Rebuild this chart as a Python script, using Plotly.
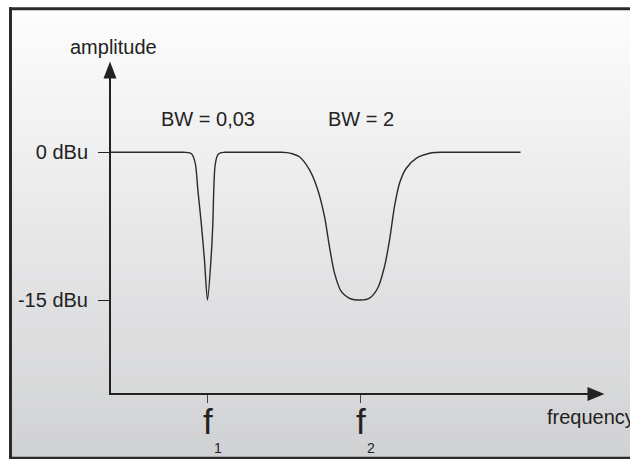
import plotly.graph_objects as go

# ---- data ----
freq = [0.36, 0.70, 0.85, 0.875, 0.895, 0.908, 0.922, 0.937, 0.959, 0.980, 1.0,
        1.024, 1.035, 1.041, 1.050, 1.067, 1.085, 1.110, 1.140, 1.300,
        1.480, 1.520, 1.555, 1.601, 1.667, 1.721, 1.765, 1.797, 1.830, 1.874, 1.939, 2.0,
        2.059, 2.113, 2.157, 2.190, 2.222, 2.255, 2.299, 2.364, 2.451, 2.490, 2.530, 2.700, 3.046]
amp_dbu = [0, 0, 0, -0.03, -0.15, -0.48, -1.29, -3.82, -7.17, -10.9, -15,
           -10.58, -7.17, -3.82, -1.29, -0.27, -0.05, 0, 0, 0,
           0, -0.03, -0.15, -0.45, -1.79, -3.82, -6.53, -9.57, -12.26, -14.13, -14.9, -15,
           -14.8, -13.78, -11.6, -8.89, -5.51, -3.14, -1.62, -0.61, -0.1, -0.02, 0, 0, 0]
y_tick_vals = [0, -15]
y_tick_text = ["0 dBu", "-15 dBu"]
x_tick_vals = [1, 2]
x_tick_text = ["f", "f"]
x_tick_sub = ["1", "2"]
bw_labels = ["BW = 0,03", "BW = 2"]

# ---- layout geometry (pixels) ----
W, H = 630, 459
L, R, T, B = 111, 588, 78, 393  # plot area edges in px
FONT = "Liberation Sans, Arial, sans-serif"
INK = "#222222"


def px(x):
    return (x - L) / (R - L)


def py(y):
    return (B - y) / (B - T)


shapes = []
# vertical gradient background
top_c = (253, 253, 253)
bot_c = (208, 209, 211)
y0, y1 = 9, 458
n = 150
for i in range(n):
    ya = y0 + (y1 - y0) * i / n
    yb = y0 + (y1 - y0) * (i + 1) / n + 0.6
    t = (i + 0.5) / n
    c = tuple(round(top_c[k] + (bot_c[k] - top_c[k]) * t) for k in range(3))
    shapes.append(dict(type="rect", xref="paper", yref="paper", layer="below",
                       x0=px(10), x1=px(W), y0=py(yb), y1=py(ya),
                       fillcolor="rgb(%d,%d,%d)" % c, line=dict(width=0)))
# frame (left, top, bottom; the right side lies outside the picture)
frame = dict(xref="paper", yref="paper", layer="above", type="line",
             line=dict(color="#2b2b2b", width=3))
shapes.append(dict(frame, x0=px(10.5), x1=px(10.5), y0=py(7.2), y1=py(459)))
shapes.append(dict(frame, x0=px(9), x1=px(W), y0=py(8.7), y1=py(8.7)))
shapes.append(dict(frame, x0=px(9), x1=px(W), y0=py(458.3), y1=py(458.3)))
# axis arrowheads
shapes.append(dict(type="path", xref="paper", yref="paper", layer="above",
                   path="M %f %f L %f %f L %f %f Z" % (px(110), py(61.5), px(103.5), py(78.5), px(116.5), py(78.5)),
                   fillcolor=INK, line=dict(width=0)))
shapes.append(dict(type="path", xref="paper", yref="paper", layer="above",
                   path="M %f %f L %f %f L %f %f Z" % (px(604.5), py(394), px(587.5), py(387), px(587.5), py(401)),
                   fillcolor=INK, line=dict(width=0)))

fig = go.Figure()
fig.add_trace(go.Scatter(x=freq, y=amp_dbu, mode="lines",
                         line=dict(color="#2a2a2a", width=1.4, shape="spline", smoothing=0.8),
                         hoverinfo="skip", showlegend=False, cliponaxis=False))

annotations = [
    dict(text="amplitude", x=px(113.5), y=py(47), xanchor="center", yanchor="middle"),
    dict(text=bw_labels[0], x=1.0, xref="x", y=py(119), xanchor="center", yanchor="middle"),
    dict(text=bw_labels[1], x=2.0, xref="x", y=py(119), xanchor="center", yanchor="middle"),
    dict(text="frequency", x=px(545), y=py(417), xanchor="left", yanchor="middle"),
]
for v, s, sub in zip(x_tick_vals, x_tick_text, x_tick_sub):
    annotations.append(dict(text=s, x=v, xref="x", y=py(421.5), xanchor="center",
                            yanchor="middle", font=dict(size=35, family=FONT, color=INK)))
    annotations.append(dict(text=sub, x=v, xref="x", xshift=10, y=py(448), xanchor="center",
                            yanchor="middle", font=dict(size=14, family=FONT, color=INK)))
for a in annotations:
    a.setdefault("xref", "paper")
    a.setdefault("yref", "paper")
    a.setdefault("showarrow", False)
    a.setdefault("font", dict(size=20, family=FONT, color=INK))

x0 = 1 - (207.5 - L) / 153.0
x1 = 2 + (R - 360.5) / 153.0
ppd = (300 - 152.3) / 15.0
ytop = (152.3 - T) / ppd
ybot = -(B - 152.3) / ppd

fig.update_layout(
    width=W, height=H, autosize=False,
    margin=dict(l=L, r=W - R, t=T, b=H - B, pad=0),
    paper_bgcolor="white", plot_bgcolor="rgba(0,0,0,0)",
    shapes=shapes, annotations=annotations,
    font=dict(family=FONT, color=INK),
    xaxis=dict(range=[x0, x1], showgrid=False, zeroline=False, showline=True,
               linecolor=INK, linewidth=2, ticks="outside", ticklen=8, tickwidth=1,
               tickcolor="#444", tickvals=x_tick_vals, showticklabels=False,
               fixedrange=True),
    yaxis=dict(range=[ybot, ytop], showgrid=False, zeroline=False, showline=True,
               linecolor=INK, linewidth=2, ticks="outside", ticklen=11, tickwidth=1.2,
               tickcolor=INK, tickvals=y_tick_vals, ticktext=y_tick_text,
               ticklabelstandoff=6,
               tickfont=dict(size=20, family=FONT, color=INK), fixedrange=True),
)

fig.write_html(
    "out.html", config={"displayModeBar": False},
    post_script=("document.body.style.margin='0';document.body.style.overflow='hidden';"
                 "var d=document.getElementById('{plot_id}');d.style.overflow='hidden';"),
)
